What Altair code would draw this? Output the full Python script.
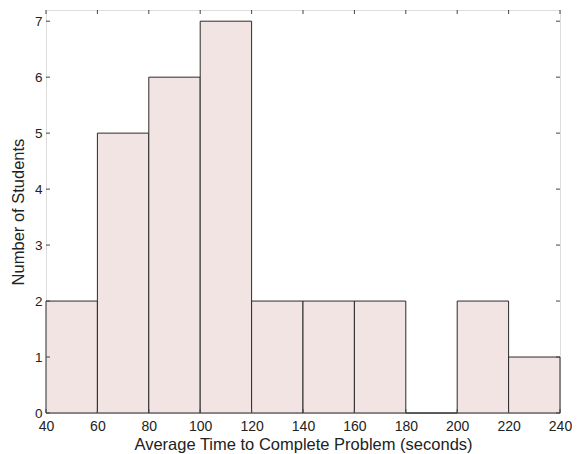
import altair as alt
import pandas as pd

bin_start = [40, 60, 80, 100, 120, 140, 160, 180, 200, 220]
bin_end = [60, 80, 100, 120, 140, 160, 180, 200, 220, 240]
counts = [2, 5, 6, 7, 2, 2, 2, 0, 2, 1]
x_ticks = [40, 60, 80, 100, 120, 140, 160, 180, 200, 220, 240]
y_ticks = [0, 1, 2, 3, 4, 5, 6, 7]

W, H = 514, 403
FONT = "Liberation Sans"

df = pd.DataFrame({"start": bin_start, "end": bin_end, "count": counts})
xt = pd.DataFrame({"t": x_ticks})
yt = pd.DataFrame({"t": y_ticks})

xscale = alt.Scale(domain=[40, 240], nice=False, zero=False)
yscale = alt.Scale(domain=[0, 7.2], nice=False)

xaxis = alt.Axis(title="Average Time to Complete Problem (seconds)", values=x_ticks,
                 ticks=False, domain=False, grid=False, labelPadding=6, labelFlush=False,
                 labelFontSize=14, titleFontSize=16.5, titlePadding=3,
                 labelColor="#222", titleColor="#222", titleFontWeight="normal",
                 labelFont=FONT, titleFont=FONT)
yaxis = alt.Axis(title="Number of Students", values=y_ticks,
                 ticks=False, domain=False, grid=False, labelPadding=4, labelFlush=False,
                 labelFontSize=13.5, titleFontSize=16.5, titlePadding=8,
                 labelColor="#222", titleColor="#222", titleFontWeight="normal",
                 labelFont=FONT, titleFont=FONT)

bars = alt.Chart(df).mark_rect(fill="#f3e4e4", stroke="#2a2a2a", strokeWidth=1).encode(
    x=alt.X("start:Q", scale=xscale, axis=xaxis),
    x2="end:Q",
    y=alt.Y("count:Q", scale=yscale, axis=yaxis),
    y2=alt.datum(0),
)

tick_color = "#444"
xb = alt.Chart(xt).mark_rule(color=tick_color).encode(
    x=alt.X("t:Q", scale=xscale, axis=xaxis), y=alt.value(H), y2=alt.value(H - 4))
xtop = alt.Chart(xt).mark_rule(color=tick_color).encode(
    x=alt.X("t:Q", scale=xscale, axis=xaxis), y=alt.value(0), y2=alt.value(4))
yl = alt.Chart(yt).mark_rule(color=tick_color).encode(
    y=alt.Y("t:Q", scale=yscale, axis=yaxis), x=alt.value(0), x2=alt.value(4))
yr = alt.Chart(yt).mark_rule(color=tick_color).encode(
    y=alt.Y("t:Q", scale=yscale, axis=yaxis), x=alt.value(W), x2=alt.value(W - 4))

chart = alt.layer(bars, xb, xtop, yl, yr).properties(
    width=W, height=H,
    autosize=alt.AutoSizeParams(type="none"),
    padding={"left": 38, "top": 2, "right": 12, "bottom": 41},
).configure_view(stroke="#555", strokeWidth=1.5).configure(background="white")

chart.save("out.html", embed_options={"renderer": "svg", "actions": False})
